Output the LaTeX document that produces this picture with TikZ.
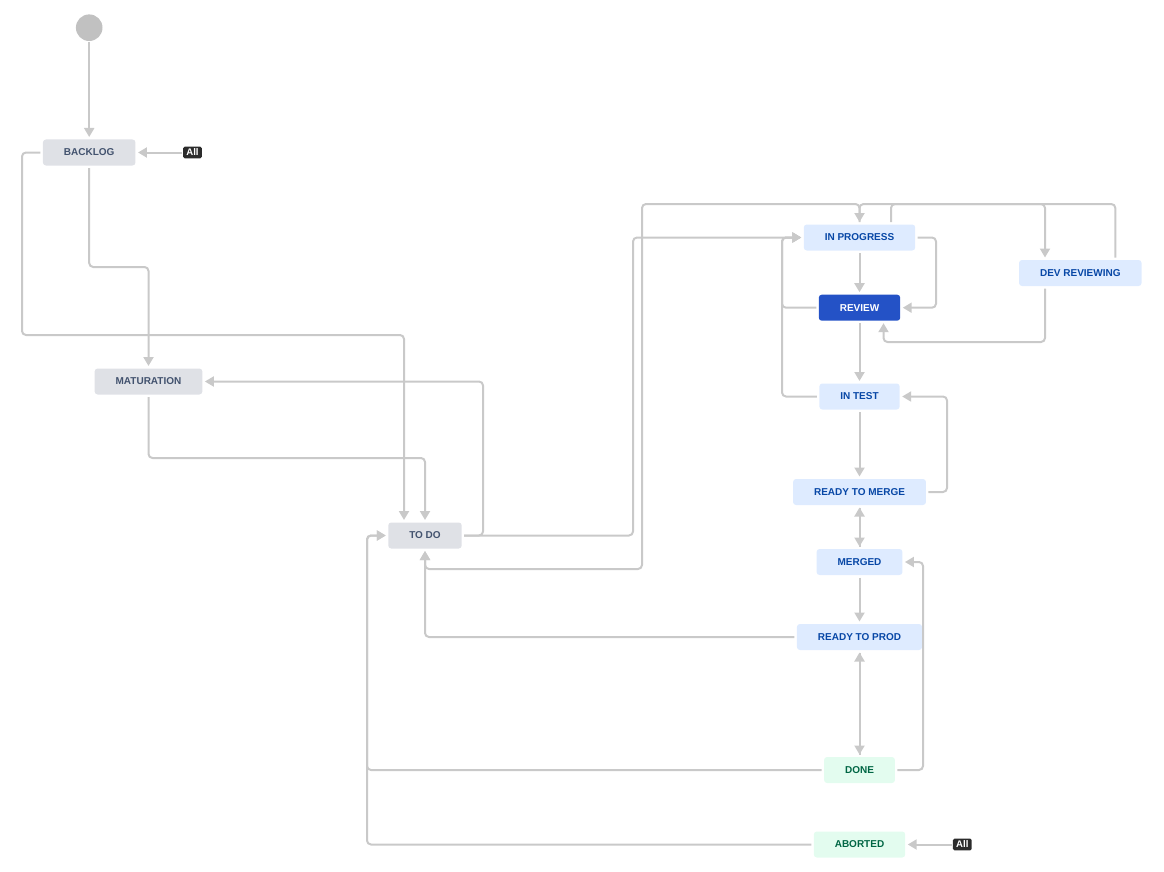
\documentclass[tikz,border=0pt]{standalone}
\usepackage{fontspec}
\setmainfont{Liberation Sans}
\usetikzlibrary{arrows.meta,calc}

\definecolor{edgegray}{HTML}{C9C9C9}
\definecolor{startgray}{HTML}{C1C1C1}
\definecolor{graybg}{HTML}{DFE1E6}
\definecolor{graytext}{HTML}{42526E}
\definecolor{bluebg}{HTML}{DEEBFF}
\definecolor{bluetext}{HTML}{0747A6}
\definecolor{reviewbg}{HTML}{2452C6}
\definecolor{greenbg}{HTML}{E3FCEF}
\definecolor{greentext}{HTML}{006644}
\definecolor{tagbg}{HTML}{2B2B2B}

\tikzset{
  state/.style={rounded corners=3pt, minimum height=26pt, inner xsep=21pt,
    inner ysep=0pt, outer sep=2.5pt, font=\fontsize{10}{12}\selectfont\bfseries},
  todostate/.style={state, fill=graybg, text=graytext},
  progstate/.style={state, fill=bluebg, text=bluetext},
  currstate/.style={state, fill=reviewbg, text=white},
  donestate/.style={state, fill=greenbg, text=greentext},
  alltag/.style={fill=tagbg, text=white, rounded corners=1.5pt, inner xsep=3.2pt,
    inner ysep=0pt, minimum height=11.8pt, outer sep=1pt,
    font=\fontsize{9.6}{10}\selectfont\bfseries},
  arr/.style={draw=edgegray, line width=2pt, rounded corners=4pt,
    -{Triangle[length=9pt,width=10pt]}},
}

\begin{document}
\begin{tikzpicture}[x=1pt,y=-1pt]
\useasboundingbox (0,0) rectangle (1164,872);

% states
\node[circle, fill=startgray, minimum size=26.6pt, inner sep=0pt, outer sep=1pt] (start) at (89.2,27.7) {};
\node[todostate] (backlog) at (89.2,152.5) {BACKLOG};
\node[alltag] (all1) at (192.5,152.5) {All};
\node[todostate] (maturation) at (148.5,381.5) {MATURATION};
\node[todostate] (todo) at (425,535.5) {TO DO};
\node[progstate] (inprog) at (859.5,237.5) {IN PROGRESS};
\node[currstate] (review) at (859.5,307.7) {REVIEW};
\node[progstate] (devrev) at (1080.3,273) {DEV REVIEWING};
\node[progstate] (intest) at (859.5,396.5) {IN TEST};
\node[progstate] (rtm) at (859.5,492) {READY TO MERGE};
\node[progstate] (merged) at (859.5,562) {MERGED};
\node[progstate] (rtp) at (859.5,637) {READY TO PROD};
\node[donestate] (done) at (859.5,770) {DONE};
\node[donestate] (aborted) at (859.5,844.5) {ABORTED};
\node[alltag] (all2) at (962.3,844.5) {All};

% transitions
\draw[arr] (start) -- (backlog);
\draw[arr] (all1) -- (backlog);
\draw[arr] (backlog.west) -| (22,335) -| ($(todo.north)+(-21,0)$);
\draw[arr] (backlog.south) -- (89.2,267) -| (maturation.north);
\draw[arr] (maturation.south) -- (148.5,458) -| (todo.north);
\draw[arr] (todo.east) -- (483,535.5) |- (maturation.east);
\draw[arr] (todo.east) -- (633,535.5) |- (inprog.west);
\draw[arr] (inprog.north) |- (642,204) -- (642,569) -| (todo.south);
\draw[arr] ($(inprog.north)+(31.5,0)$) |- (1045,204) -- ($(devrev.north)+(-35.3,0)$);
\draw[arr] ($(devrev.north)+(35,0)$) |- (inprog.north |- 0,204) -- (inprog.north);
\draw[arr] (inprog.south) -- (review.north);
\draw[arr] (inprog.east) -- (936,237.5) |- (review.east);
\draw[arr] (review.west) -- (782,307.7) |- (inprog.west);
\draw[arr] ($(devrev.south)+(-35.3,0)$) |- (883.5,342) -- ($(review.south)+(24,0)$);
\draw[arr] (review.south) -- (intest.north);
\draw[arr] (intest.west) -- (782,396.5) |- (inprog.west);
\draw[arr] (intest.south) -- (rtm.north);
\draw[arr] (rtm.east) -- (947,492) |- (intest.east);
\draw[arr] (rtm.south) -- (merged.north);
\draw[arr] (merged.north) -- (rtm.south);
\draw[arr] (merged.south) -- (rtp.north);
\draw[arr] (rtp.west) -| (todo.south);
\draw[arr] (rtp.south) -- (done.north);
\draw[arr] (done.north) -- (rtp.south);
\draw[arr] (done.east) -- (923,770) |- (merged.east);
\draw[arr] (done.west) -- (367,770) |- (todo.west);
\draw[arr] (aborted.west) -- (367,844.5) |- (todo.west);
\draw[arr] (all2) -- (aborted);
\end{tikzpicture}
\end{document}
